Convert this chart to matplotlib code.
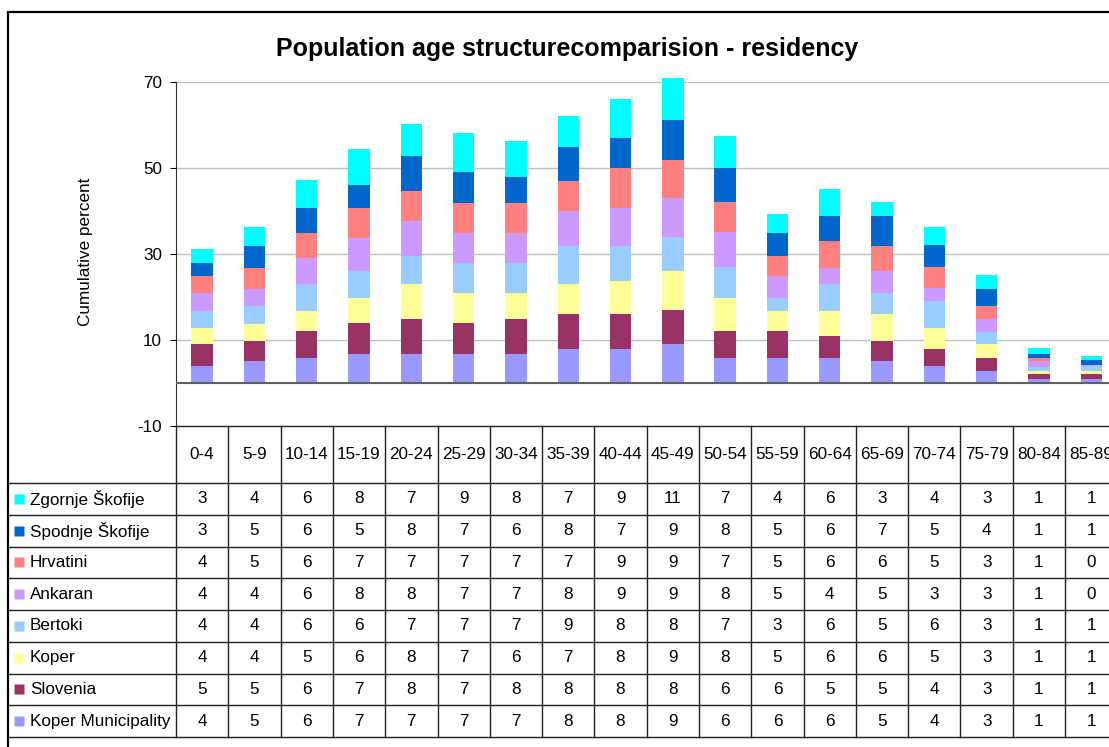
import matplotlib.pyplot as plt
from matplotlib.patches import Rectangle

plt.rcParams["font.family"] = ["Liberation Sans", "DejaVu Sans"]
plt.rcParams["axes.unicode_minus"] = False

age_groups = ["0-4", "5-9", "10-14", "15-19", "20-24", "25-29", "30-34", "35-39", "40-44",
              "45-49", "50-54", "55-59", "60-64", "65-69", "70-74", "75-79", "80-84", "85-89"]

# stacked bottom -> top
koper_municipality = [3.9, 5.0, 5.7, 6.8, 6.8, 6.8, 6.8, 7.9, 7.9, 9.1, 5.7, 5.7, 5.7, 5.0, 3.9, 2.8, 0.9, 0.9]
slovenia = [5.2, 4.8, 6.3, 7.1, 8.1, 7.1, 8.1, 8.2, 8.2, 7.8, 6.3, 6.3, 5.2, 4.8, 4.0, 2.9, 1.2, 1.1]
koper = [3.7, 4.0, 4.8, 5.8, 8.1, 7.0, 6.0, 7.0, 7.7, 9.2, 7.8, 4.8, 5.9, 6.3, 4.9, 3.3, 0.6, 0.8]
bertoki = [4.0, 4.1, 6.3, 6.3, 6.6, 7.0, 7.0, 8.8, 8.1, 7.8, 7.1, 2.9, 6.3, 4.8, 6.3, 2.9, 1.1, 1.1]
ankaran = [4.1, 4.0, 5.9, 7.8, 8.1, 7.0, 7.0, 8.1, 8.8, 9.2, 8.1, 5.2, 3.7, 5.1, 2.9, 2.9, 1.2, 0.2]
hrvatini = [4.0, 4.9, 5.9, 7.0, 7.0, 7.0, 7.0, 7.0, 9.2, 8.8, 7.0, 4.7, 6.2, 5.9, 4.9, 3.0, 0.7, 0.2]
spodnje_skofije = [2.9, 5.1, 5.9, 5.2, 8.1, 7.1, 5.9, 7.8, 7.1, 9.2, 8.1, 5.2, 5.9, 7.0, 5.1, 4.0, 1.1, 1.0]
zgornje_skofije = [3.3, 4.3, 6.4, 8.4, 7.4, 9.2, 8.4, 7.4, 9.1, 10.9, 7.4, 4.4, 6.3, 3.3, 4.3, 3.3, 1.4, 1.0]

series_names = ["Koper Municipality", "Slovenia", "Koper", "Bertoki", "Ankaran",
                "Hrvatini", "Spodnje Škofije", "Zgornje Škofije"]
series_values = [koper_municipality, slovenia, koper, bertoki, ankaran,
                 hrvatini, spodnje_skofije, zgornje_skofije]
series_colors = ["#9999FF", "#993366", "#FFFF99", "#99CCFF", "#CC99FF",
                 "#FF8080", "#0066CC", "#00FFFF"]

W, H = 1109, 747
fig = plt.figure(figsize=(W / 100, H / 100), dpi=100)

# layout in pixels
x0, col_w = 176, 52.3
n = len(age_groups)
plot_top, plot_bot, table_bot = 78, 426, 737
fs = 12.3


def fx(px):
    return px / W


def fy(py):
    return 1 - py / H


ax = fig.add_axes([fx(x0), fy(plot_bot), fx(n * col_w), fy(plot_top) - fy(plot_bot)])
positions = list(range(n))
bottom = [0.0] * n
for name, vals, col in zip(series_names, series_values, series_colors):
    ax.bar(positions, vals, width=0.41, bottom=bottom, color=col, label=name, zorder=3)
    bottom = [b + v for b, v in zip(bottom, vals)]

ax.set_xlim(-0.5, n - 0.5)
ax.set_ylim(-10, 70.93)
ax.set_yticks([-10, 10, 30, 50, 70])
ax.tick_params(axis="y", direction="out", length=4, labelsize=fs, pad=6)
ax.set_xticks([])
for y in [10, 30, 50, 70]:
    ax.axhline(y, color="#c0c0c0", lw=1, zorder=1)
ax.axhline(0, color="#606060", lw=1.5, zorder=4)
for s in ["top", "right", "bottom"]:
    ax.spines[s].set_visible(False)
ax.spines["left"].set_bounds(-10, 70)
ax.spines["left"].set_color("#303030")
ax.set_ylabel("Cumulative percent", fontsize=fs, labelpad=32)

fig.text(fx(567), fy(49), "Population age structurecomparision - residency",
         ha="center", va="center", fontsize=18, fontweight="bold")

# data table below the plot, sharing the x scale
tab = fig.add_axes([fx(x0), fy(table_bot), fx(n * col_w), fy(plot_bot) - fy(table_bot)], sharex=ax)
hdr = (483 - plot_bot) / ((table_bot - 483) / 8)
tab.set_ylim(8, -hdr)
tab.axis("off")
left_edge = -0.5 + (9 - x0) / col_w
line_kw = dict(color="#202020", lw=1, clip_on=False)
tab.plot([-0.5, n - 0.5], [-hdr, -hdr], **line_kw)
for r in range(9):
    tab.plot([left_edge, n - 0.5], [r, r], **line_kw)
for k in range(n + 1):
    tab.plot([k - 0.5, k - 0.5], [-hdr, 8], **line_kw)

for i, g in enumerate(age_groups):
    tab.text(i, -hdr / 2, g, ha="center", va="center", fontsize=fs, clip_on=False)

rows = list(zip(series_names, series_values, series_colors))[::-1]
for r, (name, vals, col) in enumerate(rows):
    yc = r + 0.5
    tab.plot([-0.5 + (18.5 - x0) / col_w], [yc], marker="s", ms=7.5, color=col,
             mec="none", clip_on=False)
    tab.text(-0.5 + (30 - x0) / col_w, yc, name, ha="left", va="center",
             fontsize=fs, clip_on=False)
    for i, v in enumerate(vals):
        tab.text(i, yc, f"{round(v):d}", ha="center", va="center", fontsize=fs)

fig.patches.append(Rectangle((fx(8), fy(H + 20)), fx(W + 20), fy(12) - fy(H + 20),
                             transform=fig.transFigure, fill=False, ec="black", lw=1.6))

fig.savefig("out.png", dpi=100)
